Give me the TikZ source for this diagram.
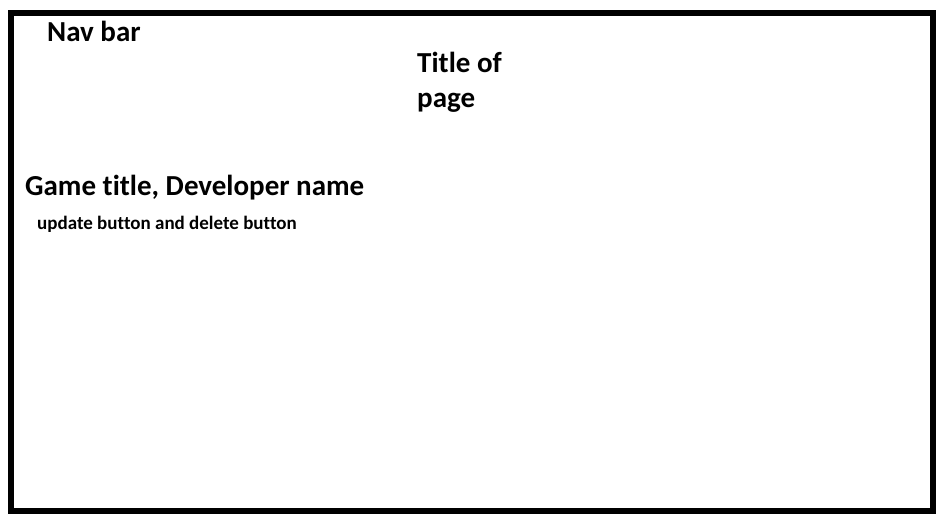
\documentclass[tikz,border=0pt]{standalone}
\usepackage{fontspec}
\setmainfont[Ligatures={NoCommon}]{Carlito}
\begin{document}
\begin{tikzpicture}[x=1pt,y=-1pt,
  label/.style={anchor=base west,inner sep=0pt,font=\bfseries\fontsize{29}{36}\selectfont},
  smalllabel/.style={anchor=base west,inner sep=0pt,font=\bfseries\fontsize{19}{22}\selectfont}]
  \useasboundingbox (0,0) rectangle (942,519);
  % page frame
  \draw[line width=6pt] (11,13) rectangle (933,511);
  \node[label] (nav) at (47,42) {Nav bar};
  \node[label] (title1) at (417,72) {Title of};
  \node[label] (title2) at (417,107) {page};
  \node[label] (game) at (25,195) {Game title, Developer name};
  \node[smalllabel] (buttons) at (37,229) {update button and delete button};
\end{tikzpicture}
\end{document}
